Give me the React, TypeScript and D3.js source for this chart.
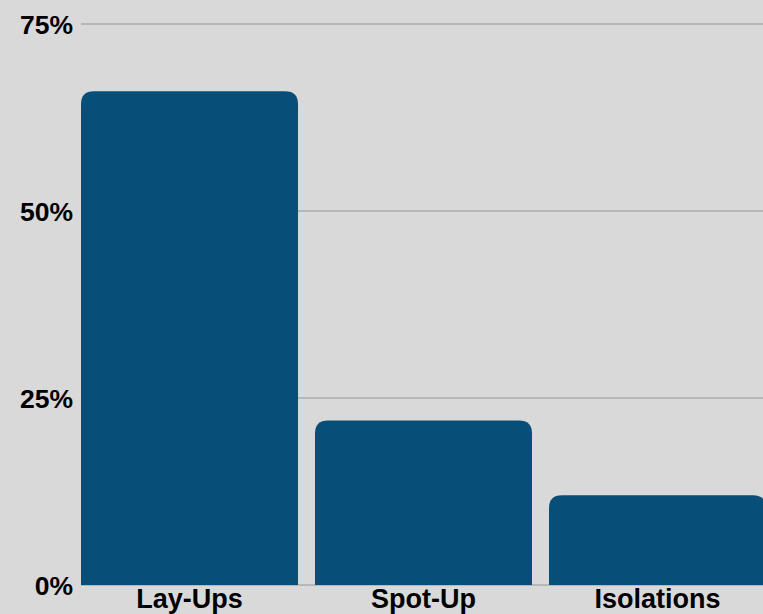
import React, { useEffect, useRef } from 'react';
import * as d3 from 'd3';

const categories = ['Lay-Ups', 'Spot-Up', 'Isolations'];
const values = [66, 22, 12];
const yTicks = [0, 25, 50, 75];

const W = 763;
const H = 614;

const App: React.FC = () => {
  const svgRef = useRef<SVGSVGElement>(null);

  useEffect(() => {
    if (!svgRef.current) return;
    const svg = d3.select(svgRef.current);
    svg.selectAll('*').remove();

    const x = d3.scaleBand<string>().domain(categories).range([81, 766]).paddingInner(0.0726).paddingOuter(0);
    const y = d3.scaleLinear().domain([0, 75]).range([585, 24]);

    svg.append('rect').attr('width', W).attr('height', H).style('fill', '#d9d9d9');

    // gridlines
    svg.selectAll('.grid')
      .data(yTicks)
      .enter()
      .append('line')
      .attr('x1', 81)
      .attr('x2', W)
      .attr('y1', (d) => y(d))
      .attr('y2', (d) => y(d))
      .style('stroke', '#ababab')
      .style('stroke-width', 1.5);

    // bars with rounded top corners
    const r = 13;
    svg.selectAll('.bar')
      .data(values)
      .enter()
      .append('path')
      .attr('d', (d, i) => {
        const x0 = x(categories[i])!;
        const x1 = x0 + x.bandwidth();
        const yt = y(d);
        const yb = y(0);
        return `M${x0},${yb} L${x0},${yt + r} Q${x0},${yt} ${x0 + r},${yt} L${x1 - r},${yt} Q${x1},${yt} ${x1},${yt + r} L${x1},${yb} Z`;
      })
      .style('fill', '#074f78');

    // y tick labels
    svg.selectAll('.ylab')
      .data(yTicks)
      .enter()
      .append('text')
      .attr('x', 73)
      .attr('y', (d) => y(d))
      .attr('dy', '0.36em')
      .attr('text-anchor', 'end')
      .style('font-family', '"Liberation Sans", Arial, sans-serif')
      .style('font-weight', 'bold')
      .style('font-size', '26.5px')
      .style('fill', '#000')
      .text((d) => `${d}%`);

    // x labels
    svg.selectAll('.xlab')
      .data(categories)
      .enter()
      .append('text')
      .attr('x', (d) => x(d)! + x.bandwidth() / 2)
      .attr('y', 608)
      .attr('text-anchor', 'middle')
      .style('font-family', '"Liberation Sans", Arial, sans-serif')
      .style('font-weight', 'bold')
      .style('font-size', '27px')
      .style('fill', '#000')
      .text((d) => d);
  }, []);

  return (
    <svg
      ref={svgRef}
      width={W}
      height={H}
      style={{ position: 'fixed', top: 0, left: 0, display: 'block' }}
    />
  );
};

export default App;
